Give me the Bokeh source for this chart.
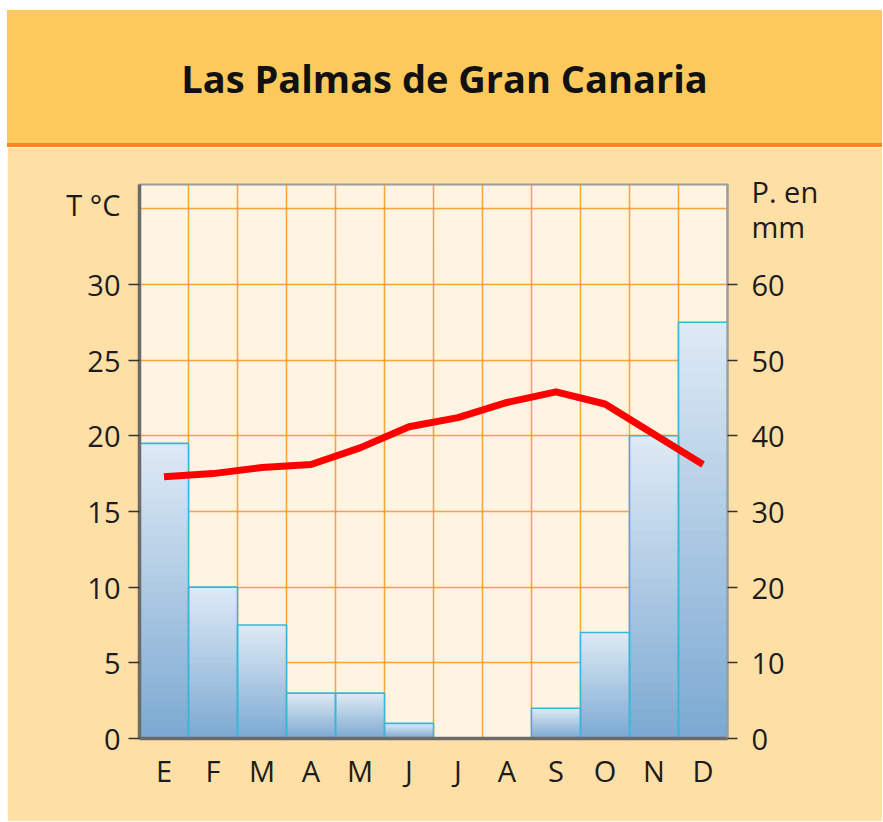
import numpy as np
from bokeh.plotting import figure
from bokeh.models import Range1d, LinearAxis, FixedTicker, Div
from bokeh.layouts import column
from bokeh.embed import file_html
from bokeh.resources import INLINE

# ---------------- data ----------------
title = "Las Palmas de Gran Canaria"
months = ["E", "F", "M", "A", "M", "J", "J", "A", "S", "O", "N", "D"]
temperature = [17.3, 17.5, 17.9, 18.1, 19.2, 20.6, 21.2, 22.2, 22.9, 22.1, 20.1, 18.1]
precipitation = [39, 20, 15, 6, 6, 2, 0, 0, 4, 14, 40, 55]
temp_ticks = [0, 5, 10, 15, 20, 25, 30]
precip_ticks = [0, 10, 20, 30, 40, 50, 60]
temp_grid = [5, 10, 15, 20, 25, 30, 35]
temp_label = "T °C"
temp_label_at = 35.3
precip_label = ["P. en", "mm"]
precip_label_at = [72.3, 67.7]

FONT = "Open Sans"
TXT = "#1c1c1c"
W = 875

x = [i + 0.5 for i in range(len(months))]

# ---------------- title band ----------------
div = Div(
    text=(f'<div style="width:{W}px;text-align:center;font-family:\'Open Sans\';'
          f'font-weight:bold;font-size:38px;line-height:1;color:#111;'
          f'padding-top:49px;">{title}</div>'),
    width=W, height=137, margin=(10, 0, 0, 7),
    styles={"background-color": "#FCC95C", "border-bottom": "4px solid #F6861F",
            "box-sizing": "border-box"},
)

# ---------------- figure ----------------
p = figure(
    frame_width=588, frame_height=554,
    min_border_left=132, min_border_right=W - 132 - 588, min_border_top=37,
    min_border_bottom=674 - 37 - 554,
    x_range=Range1d(0, 12), y_range=Range1d(0, 36.6),
    output_backend="svg", toolbar_location=None,
    background_fill_color="#FFF3E1", border_fill_color="#FEDFA6",
    margin=(0, 0, 0, 7),
)
p.extra_y_ranges = {"precip": Range1d(0, 73.2)}

# grid
p.xgrid.ticker = FixedTicker(ticks=list(range(1, 12)))
p.ygrid.ticker = FixedTicker(ticks=temp_grid)
p.grid.grid_line_color = "#F7941E"
p.grid.grid_line_width = 1.5
p.grid.grid_line_alpha = 0.85

# gradient bars (light at top, darker at bottom)
dark = np.array([0x7D, 0xAA, 0xD2])
light = np.array([0xDD, 0xE9, 0xF4])
N = 32
for k in range(N):
    t = k / (N - 1)
    c = dark + (light - dark) * t
    col = "#%02x%02x%02x" % tuple(int(round(v)) for v in c)
    p.vbar(x=x, bottom=[v * k / N for v in precipitation], top=precipitation,
           width=1, fill_color=col, line_color=None, y_range_name="precip")
p.vbar(x=x, bottom=0, top=precipitation, width=1, fill_color=None,
       line_color="#3DB5D8", line_width=1.6, y_range_name="precip")

# temperature line
p.line(x=x, y=temperature, line_color="#FF0000", line_width=7, line_join="round", line_cap="butt")


def label_style(ax, size="29px"):
    ax.major_label_text_font = FONT
    ax.major_label_text_font_size = size
    ax.major_label_text_color = TXT
    ax.minor_tick_line_color = None


# left: inner axis = axis line + tick marks only
ya = p.yaxis[0]
ya.ticker = FixedTicker(ticks=temp_ticks)
ya.axis_line_color = "#6B6B6B"
ya.axis_line_width = 3.5
ya.major_tick_line_color = "#333333"
ya.major_tick_line_width = 1.5
ya.major_tick_out = 11
ya.major_tick_in = 0
ya.minor_tick_line_color = None
ya.major_label_standoff = 0
ya.major_label_text_font_size = "0px"
ya.major_label_overrides = {t: "" for t in temp_ticks}

# left: outer axis = labels (numbers + unit title)
yl = LinearAxis(ticker=FixedTicker(ticks=temp_ticks + [temp_label_at]))
yl.major_label_overrides = {temp_label_at: temp_label}
yl.axis_line_color = None
yl.major_tick_line_color = None
yl.major_tick_out = 0
yl.major_tick_in = 0
yl.major_label_standoff = 8
label_style(yl)
p.add_layout(yl, "left")

# bottom axis
xa = p.xaxis[0]
xa.ticker = FixedTicker(ticks=x)
xa.major_label_overrides = {xi: m for xi, m in zip(x, months)}
xa.axis_line_color = "#6B6B6B"
xa.axis_line_width = 3.5
xa.major_tick_line_color = None
xa.major_label_standoff = 6
label_style(xa)

# right: inner axis = line + tick marks only
ra = LinearAxis(y_range_name="precip", ticker=FixedTicker(ticks=precip_ticks))
ra.axis_line_color = "#9C9C9C"
ra.axis_line_width = 2
ra.major_tick_line_color = "#333333"
ra.major_tick_line_width = 1.5
ra.major_tick_out = 10
ra.major_tick_in = 0
ra.minor_tick_line_color = None
ra.major_label_standoff = 0
ra.major_label_text_font_size = "0px"
ra.major_label_overrides = {t: "" for t in precip_ticks}
p.add_layout(ra, "right")

# right: outer axis = labels (numbers + unit title)
rl = LinearAxis(y_range_name="precip",
                ticker=FixedTicker(ticks=precip_ticks + precip_label_at))
rl.major_label_overrides = {v: s for v, s in zip(precip_label_at, precip_label)}
rl.axis_line_color = None
rl.major_tick_line_color = None
rl.major_tick_out = 0
rl.major_tick_in = 0
rl.major_label_standoff = 14
label_style(rl)
p.add_layout(rl, "right")

p.outline_line_color = "#9C9C9C"
p.outline_line_width = 2

layout = column(div, p, spacing=0)
open("out.html", "w").write(file_html(layout, INLINE))
